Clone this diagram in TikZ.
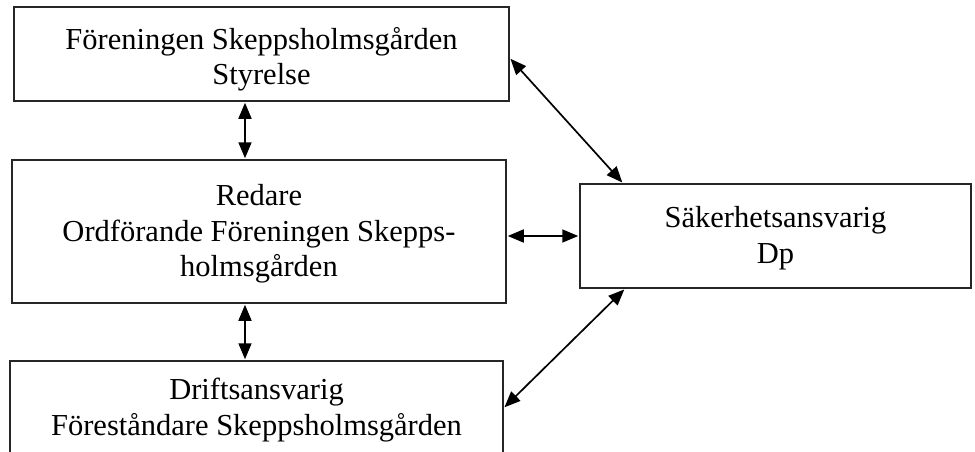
\documentclass[tikz,border=0pt]{standalone}
\usepackage{fontspec}
\setmainfont{Liberation Serif}
\usetikzlibrary{arrows.meta}
\begin{document}
\begin{tikzpicture}[x=1pt,y=-1pt,
  box/.style={draw=black!85, line width=1.5pt, fill=white, inner sep=0pt},
  txt/.style={align=center, inner sep=0pt, font=\fontsize{30.5}{35.5}\selectfont},
  link/.style={line width=1.7pt, {Triangle[length=16pt,width=13pt]}-{Triangle[length=16pt,width=13pt]}, shorten >=1pt, shorten <=1pt}]
\useasboundingbox (0,0) rectangle (975,452);
\clip (0,0) rectangle (975,452);
\fill[white] (0,0) rectangle (975,452);
\node[box, minimum width=495pt, minimum height=94pt] (top) at (261.5,54) {};
\node[txt] (topt) at (261.5,59) {Föreningen Skeppsholmsgården\\Styrelse};
\node[box, minimum width=494pt, minimum height=143pt] (mid) at (259,231.5) {};
\node[txt] (midt) at (259,234) {Redare\\Ordförande Föreningen Skepps-\\holmsgården};
\node[box, minimum width=493pt, minimum height=98pt] (bot) at (256.5,410) {};
\node[txt] (bott) at (256.5,410) {Driftsansvarig\\Föreståndare Skeppsholmsgården};
\node[box, minimum width=391pt, minimum height=104pt] (sak) at (775.5,236) {};
\node[txt] (sakt) at (775.5,238) {Säkerhetsansvarig\\Dp};
\coordinate (vx) at (245,0);
\coordinate (ya) at (0,58);
\coordinate (yb) at (0,236);
\coordinate (yc) at (0,408);
\coordinate (xa) at (623,0);
\coordinate (xc) at (625,0);
\draw[link] (top.south -| vx) -- (mid.north -| vx);
\draw[link] (mid.south -| vx) -- (bot.north -| vx);
\draw[link] (top.east |- ya) -- (sak.north -| xa);
\draw[link] (mid.east |- yb) -- (sak.west |- yb);
\draw[link] (bot.east |- yc) -- (sak.south -| xc);
\end{tikzpicture}
\end{document}
